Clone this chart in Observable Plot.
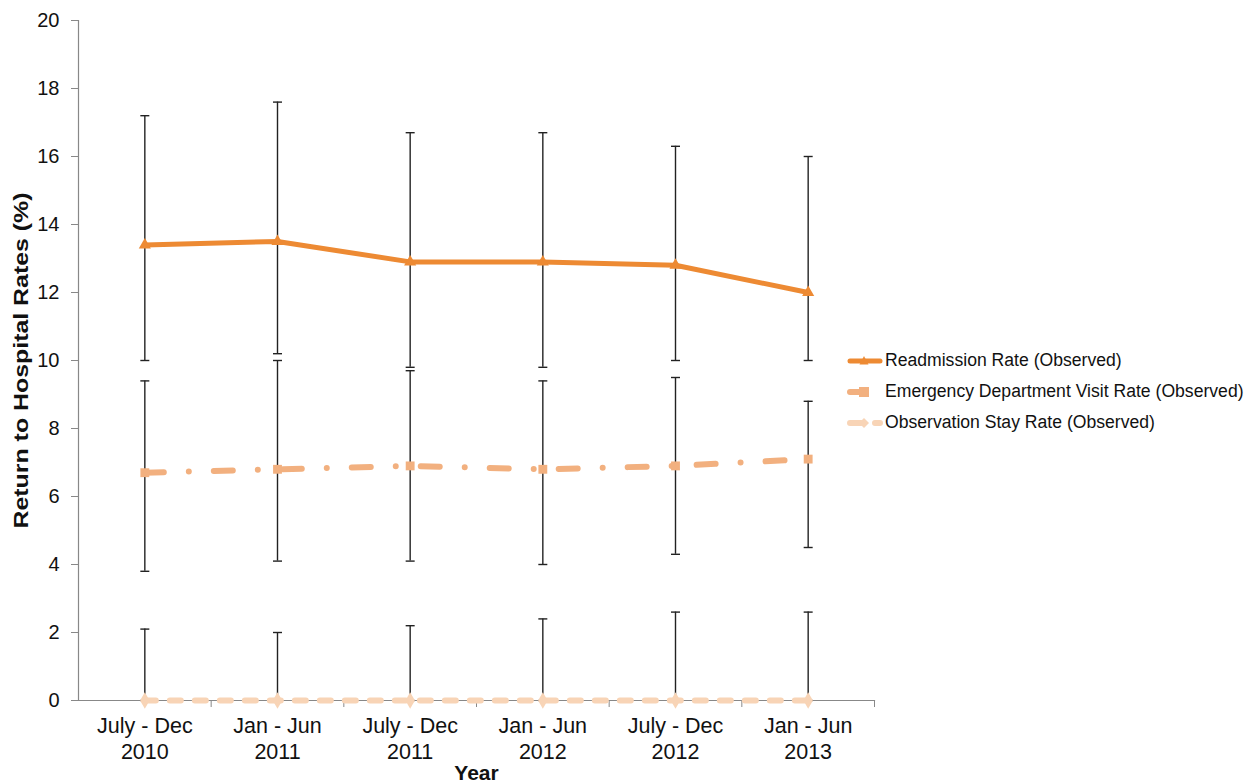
<!DOCTYPE html>
<html>
<head>
<meta charset="utf-8">
<script src="https://cdn.jsdelivr.net/npm/d3@7"></script>
<script src="https://cdn.jsdelivr.net/npm/@observablehq/plot@0.6"></script>
<style>
  html, body { margin: 0; padding: 0; background: #fff; }
  #wrap { position: relative; width: 1246px; height: 782px; font-family: "Liberation Sans", Arial, sans-serif; }
  #legend { position: absolute; left: 847px; top: 345px; }
  .row { display: flex; align-items: center; height: 31px; font-size: 17.6px; color: #111; }
  .row svg { width: 36px; height: 24px; margin-right: 2px; }
</style>
</head>
<body>
<div id="wrap"></div>
<script>
const periods = ["July - Dec\n2010", "Jan - Jun\n2011", "July - Dec\n2011", "Jan - Jun\n2012", "July - Dec\n2012", "Jan - Jun\n2013"];
const yTicks = [0, 2, 4, 6, 8, 10, 12, 14, 16, 18, 20];

const readmission = [13.4, 13.5, 12.9, 12.9, 12.8, 12.0];
const readmissionLow = [10.0, 10.2, 9.8, 9.8, 10.0, 10.0];
const readmissionHigh = [17.2, 17.6, 16.7, 16.7, 16.3, 16.0];

const edVisit = [6.7, 6.8, 6.9, 6.8, 6.9, 7.1];
const edVisitLow = [3.8, 4.1, 4.1, 4.0, 4.3, 4.5];
const edVisitHigh = [9.4, 10.0, 9.7, 9.4, 9.5, 8.8];

const obsStay = [0, 0, 0, 0, 0, 0];
const obsStayLow = [0, 0, 0, 0, 0, 0];
const obsStayHigh = [2.1, 2.0, 2.2, 2.4, 2.6, 2.6];

const seriesNames = ["Readmission Rate (Observed)", "Emergency Department Visit Rate (Observed)", "Observation Stay Rate (Observed)"];
const colors = ["#ED8A33", "#F2B07F", "#F8D4B6"];
const dashes = [null, "19 25 0 25", "11 14"];
const symbols = ["triangle", "square", "diamond"];

const series = [
  {name: seriesNames[0], v: readmission, lo: readmissionLow, hi: readmissionHigh},
  {name: seriesNames[1], v: edVisit, lo: edVisitLow, hi: edVisitHigh},
  {name: seriesNames[2], v: obsStay, lo: obsStayLow, hi: obsStayHigh}
];
const rows = series.flatMap((s, k) => periods.map((p, i) => ({k, i, v: s.v[i], lo: s.lo[i], hi: s.hi[i]})));

const capSymbol = {draw(ctx, size) { const w = 4.5; ctx.moveTo(-w, 0); ctx.lineTo(w, 0); }};

const boundaries = d3.range(periods.length).map(i => i + 0.5);

const marks = [
  Plot.axisY({ticks: yTicks, tickSize: 7, tickPadding: 12, fontSize: 20, stroke: "#888", tickFormat: d => String(d)}),
  Plot.axisX({ticks: boundaries, tickSize: 7, tickFormat: () => "", stroke: "#888", label: null}),
  Plot.frame({anchor: "left", stroke: "#888", strokeWidth: 1.2}),
  Plot.frame({anchor: "bottom", stroke: "#888", strokeWidth: 1.2}),
  Plot.text(periods, {x: (d, i) => i, frameAnchor: "bottom", lineAnchor: "top", dy: 15, lineHeight: 1.17, fontSize: 21.5, fill: "#111"}),
  Plot.text(["Year"], {frameAnchor: "bottom", dy: 79, fontSize: 21, fontWeight: "bold", fill: "#111"}),
  Plot.text(["Return to Hospital Rates (%)"], {frameAnchor: "left", textAnchor: "middle", dx: -57, rotate: -90, fontSize: 21, fontWeight: "bold", fill: "#111", className: "ytitle"}),
  Plot.ruleX(rows, {x: "i", y1: "lo", y2: "hi", stroke: "#222", strokeWidth: 1.4}),
  Plot.dot(rows, {x: "i", y: "lo", symbol: capSymbol, r: 4, stroke: "#222", strokeWidth: 1.4, fill: "none"}),
  Plot.dot(rows, {x: "i", y: "hi", symbol: capSymbol, r: 4, stroke: "#222", strokeWidth: 1.4, fill: "none"})
];
series.forEach((s, k) => {
  const data = rows.filter(r => r.k === k);
  marks.push(Plot.line(data, {x: "i", y: "v", stroke: colors[k], strokeWidth: k === 0 ? 5 : 6, strokeDasharray: dashes[k], strokeLinecap: "round", strokeLinejoin: "round"}));
  marks.push(Plot.dot(data, {x: "i", y: "v", symbol: symbols[k], r: k === 0 ? 4.5 : 5, fill: colors[k], stroke: "none"}));
});

const chart = Plot.plot({
  width: 1246, height: 782,
  marginLeft: 78, marginRight: 372, marginTop: 20, marginBottom: 82,
  style: {fontFamily: "'Liberation Sans', Arial, sans-serif", color: "#111", background: "#fff"},
  x: {type: "linear", domain: [-0.5, periods.length - 0.5], axis: null},
  y: {domain: [0, 20], axis: null},
  marks
});
d3.select(chart).selectAll(".ytitle text").attr("textLength", 336).attr("lengthAdjust", "spacingAndGlyphs");
const wrap = document.getElementById("wrap");
wrap.appendChild(chart);

// legend
const legend = document.createElement("div");
legend.id = "legend";
const symPath = {
  triangle: "M0,-5L4.5,3.5L-4.5,3.5Z",
  square: "M-5,-5H5V5H-5Z",
  diamond: "M0,-5L5,0L0,5L-5,0Z"
};
series.forEach((s, k) => {
  const row = document.createElement("div");
  row.className = "row";
  const dash = dashes[k] ? `stroke-dasharray="${k === 1 ? '14 30' : '11 14'}"` : "";
  row.innerHTML = `<svg viewBox="0 0 36 24"><line x1="3" y1="12" x2="33" y2="12" stroke="${colors[k]}" stroke-width="${k === 0 ? 5 : 6}" stroke-linecap="round" ${dash}/><path transform="translate(17,12)" d="${symPath[symbols[k]]}" fill="${colors[k]}"/></svg><span>${s.name}</span>`;
  legend.appendChild(row);
});
wrap.appendChild(legend);
</script>
</body>
</html>
